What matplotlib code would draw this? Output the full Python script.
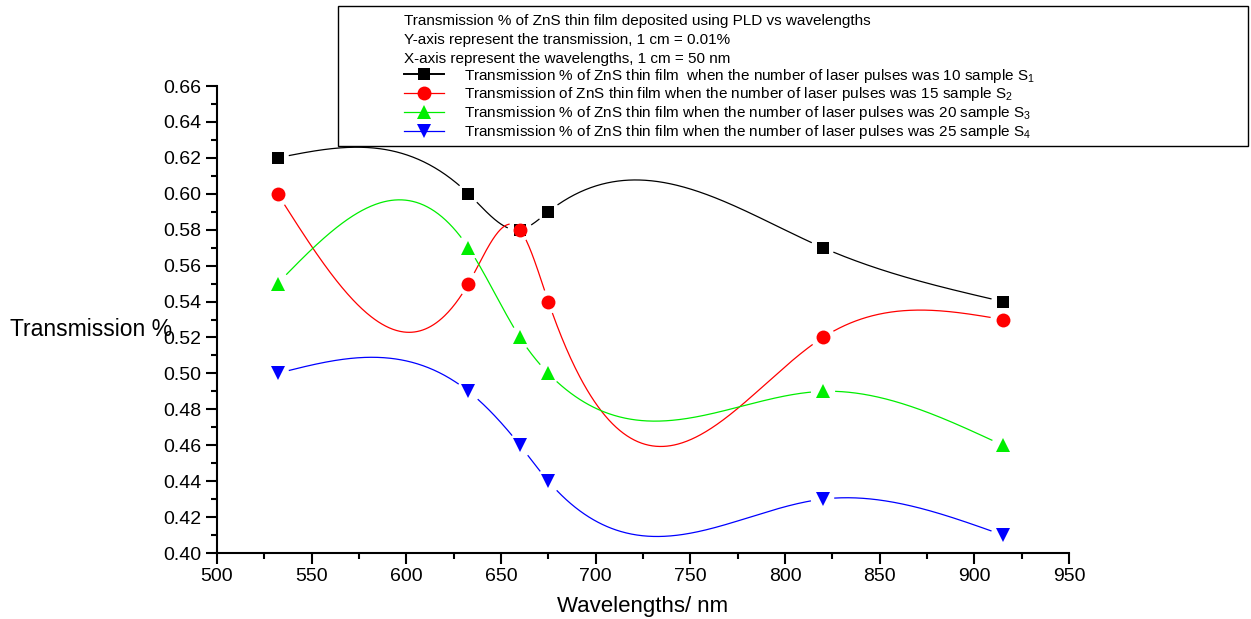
import numpy as np
import matplotlib
matplotlib.use("Agg")
import matplotlib.pyplot as plt
from matplotlib.lines import Line2D
from matplotlib.patches import Rectangle
from matplotlib.ticker import MultipleLocator

plt.rcParams['font.family'] = ['Liberation Sans', 'DejaVu Sans']
plt.rcParams['mathtext.fontset'] = 'custom'
plt.rcParams['mathtext.rm'] = 'Liberation Sans'
plt.rcParams['mathtext.it'] = 'Liberation Sans'

# ---- data ----
wavelengths = [532, 632.8, 660, 675, 820, 915]
s1 = [0.62, 0.60, 0.58, 0.59, 0.57, 0.54]
s2 = [0.60, 0.55, 0.58, 0.54, 0.52, 0.53]
s3 = [0.55, 0.57, 0.52, 0.50, 0.49, 0.46]
s4 = [0.50, 0.49, 0.46, 0.44, 0.43, 0.41]

title_lines = ["Transmission % of ZnS thin film deposited using PLD vs wavelengths",
               "Y-axis represent the transmission, 1 cm = 0.01%",
               "X-axis represent the wavelengths, 1 cm = 50 nm"]
labels = ["Transmission % of ZnS thin film  when the number of laser pulses was 10 sample S$_1$",
          "Transmission of ZnS thin film when the number of laser pulses was 15 sample S$_2$",
          "Transmission % of ZnS thin film when the number of laser pulses was 20 sample S$_3$",
          "Transmission % of ZnS thin film when the number of laser pulses was 25 sample S$_4$"]
colors = ['black', 'red', '#00ee00', 'blue']
markers = ['s', 'o', '^', 'v']
xticks = [500, 550, 600, 650, 700, 750, 800, 850, 900, 950]
yticks = [0.40, 0.42, 0.44, 0.46, 0.48, 0.50, 0.52, 0.54, 0.56, 0.58, 0.60, 0.62, 0.64, 0.66]


def natural_spline(x, y, xs):
    x = np.asarray(x, float); y = np.asarray(y, float)
    n = len(x)
    h = np.diff(x)
    A = np.zeros((n, n)); b = np.zeros(n)
    A[0, 0] = 1; A[-1, -1] = 1
    for i in range(1, n - 1):
        A[i, i - 1] = h[i - 1]
        A[i, i] = 2 * (h[i - 1] + h[i])
        A[i, i + 1] = h[i]
        b[i] = 3 * ((y[i + 1] - y[i]) / h[i] - (y[i] - y[i - 1]) / h[i - 1])
    c = np.linalg.solve(A, b)
    out = np.empty_like(xs)
    for k, xv in enumerate(xs):
        i = min(max(np.searchsorted(x, xv) - 1, 0), n - 2)
        bi = (y[i + 1] - y[i]) / h[i] - h[i] * (2 * c[i] + c[i + 1]) / 3
        di = (c[i + 1] - c[i]) / (3 * h[i])
        dx = xv - x[i]
        out[k] = y[i] + bi * dx + c[i] * dx ** 2 + di * dx ** 3
    return out


W, H = 1251, 619
fig = plt.figure(figsize=(W / 100, H / 100), dpi=100)
ax = fig.add_axes([217 / W, 1 - 553 / H, (1069 - 217) / W, (553 - 86) / H])
ax.set_xlim(500, 950)
ax.set_ylim(0.40, 0.66)

xs = np.linspace(wavelengths[0], wavelengths[-1], 800)
handles = []
for ys, col, mk in zip([s1, s2, s3, s4], colors, markers):
    yy = natural_spline(wavelengths, ys, xs)
    # gap around markers (display space)
    pts = ax.transData.transform(np.column_stack([xs, yy]))
    mp = ax.transData.transform(np.column_stack([wavelengths, ys]))
    d = np.min(np.hypot(pts[:, None, 0] - mp[None, :, 0], pts[:, None, 1] - mp[None, :, 1]), axis=1)
    ym = np.where(d < 12, np.nan, yy)
    ax.plot(xs, ym, color=col, lw=0.9)
    ms = 9 if mk in ('s',) else 10
    ax.plot(wavelengths, ys, linestyle='none', marker=mk, color=col, markersize=ms,
            markeredgewidth=0)
    handles.append(Line2D([], [], color=col, lw=1.4 if col == 'black' else 0.9,
                          marker=mk, markersize=ms, markeredgewidth=0))

for s in ('top', 'right'):
    ax.spines[s].set_visible(False)
for s in ('left', 'bottom'):
    ax.spines[s].set_linewidth(1.5)
ax.set_xticks(xticks)
ax.set_yticks(yticks)
ax.set_yticklabels([f"{v:.2f}" for v in yticks])
ax.xaxis.set_minor_locator(MultipleLocator(25))
ax.yaxis.set_minor_locator(MultipleLocator(0.01))
ax.tick_params(which='major', direction='out', length=8, width=1.5, labelsize=14, pad=3)
ax.tick_params(which='minor', direction='out', length=4, width=1.5)

ax.set_xlabel("Wavelengths/ nm", fontsize=16, labelpad=8)
fig.text(10 / W, 1 - 330 / H, "Transmission %", fontsize=16.5, ha='left', va='center')

# legend box
fig.patches.append(Rectangle((338 / W, 1 - 146 / H), (1248 - 338) / W, (146 - 6) / H,
                             transform=fig.transFigure, fill=False, edgecolor='black',
                             lw=1.0))
leg = fig.legend(handles, labels, loc='upper left',
                 bbox_to_anchor=(404 / W, 1 - 14 / H), frameon=False,
                 title="\n".join(title_lines), title_fontsize=11, fontsize=11,
                 alignment='left', handlelength=2.6, handletextpad=1.3,
                 labelspacing=0.05, borderpad=0.0, borderaxespad=0.0)
leg.get_title().set_linespacing(1.45)

fig.savefig("out.png", dpi=100)
